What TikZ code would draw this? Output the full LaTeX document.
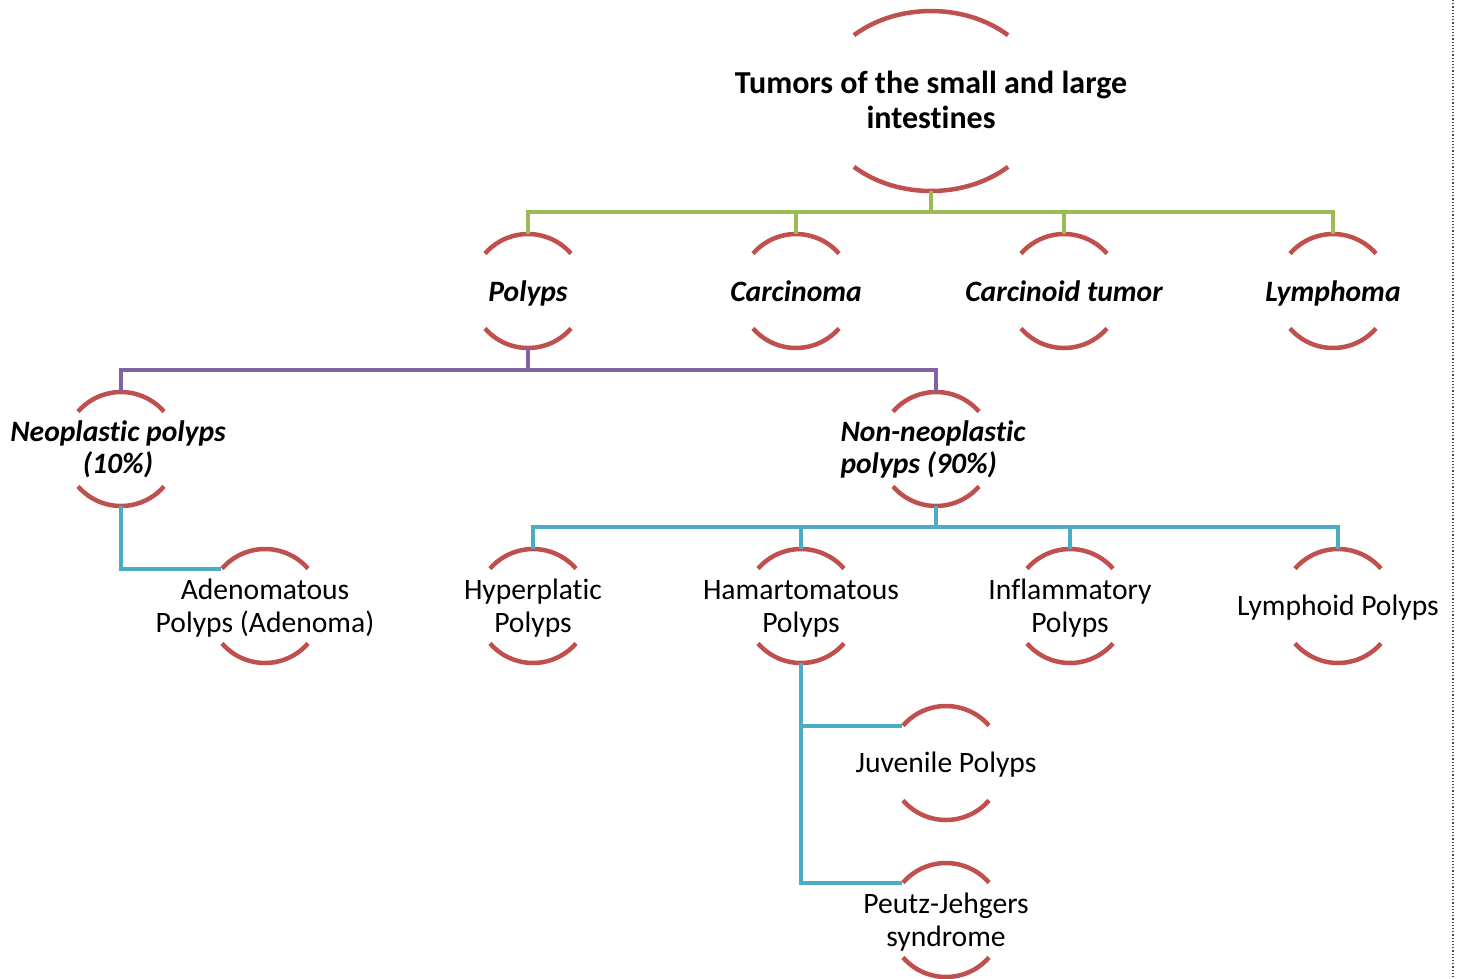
\documentclass[tikz,border=0pt]{standalone}
\usepackage{fontspec}
\setmainfont{Carlito}[Ligatures={NoCommon}]
\usetikzlibrary{calc,shapes.geometric}
\definecolor{arcred}{HTML}{C0504D}
\definecolor{lgreen}{HTML}{9BBB59}
\definecolor{lpurple}{HTML}{8064A2}
\definecolor{lblue}{HTML}{4BACC6}
\tikzset{
  nd/.style={circle, minimum size=114pt, inner sep=0pt, outer sep=0pt},
  txt/.style={font=\fontsize{29.6}{33}\selectfont, align=center, inner sep=0pt, yshift=-2pt},
  bi/.style={font=\fontsize{29.6}{32}\selectfont\bfseries\itshape, align=center, inner sep=0pt, yshift=-2pt},
  arcline/.style={draw=arcred, line width=4.5pt},
  gline/.style={draw=lgreen, line width=4pt},
  pline/.style={draw=lpurple, line width=4pt},
  bline/.style={draw=lblue, line width=4pt},
}
\begin{document}
\begin{tikzpicture}[x=1pt,y=1pt]
\useasboundingbox (0,0) rectangle (1459,-978);
% title
\node[ellipse, minimum width=226pt, minimum height=180pt, inner sep=0pt, outer sep=0pt,
  label={[font=\fontsize{32}{35}\selectfont\bfseries, align=center, inner sep=0pt, yshift=-3pt]center:Tumors of the small and large\strut\\intestines\strut}]
  (title) at (931,-101) {};
\draw[arcline] ($(title.center)+(47:113 and 90)$) arc[start angle=47, end angle=133, x radius=113, y radius=90];
\draw[arcline] ($(title.center)+(227:113 and 90)$) arc[start angle=227, end angle=313, x radius=113, y radius=90];
% level 2
\node[nd, label={[bi, yshift=-2pt]center:Polyps\strut}] (polyps) at (528,-291) {};
\node[nd, label={[bi, yshift=-2pt]center:Carcinoma\strut}] (carc) at (796,-291) {};
\node[nd, label={[bi, yshift=-2pt]center:Carcinoid tumor\strut}] (carcoid) at (1064,-291) {};
\node[nd, label={[bi, yshift=-2pt]center:Lymphoma\strut}] (lymph) at (1333,-291) {};
% level 3
\node[nd, label={[bi, xshift=-3pt]center:Neoplastic polyps\strut\\(10\%)\strut}] (neo) at (121,-449) {};
\node[nd, label={[bi, align=left, xshift=-3pt]center:Non-neoplastic\strut\\polyps (90\%)\strut}] (nonneo) at (936,-449) {};
% level 4
\node[nd, label={[txt, yshift=-1pt]center:Adenomatous\strut\\Polyps (Adenoma)\strut}] (aden) at (265,-606) {};
\node[nd, label={[txt, yshift=-1pt]center:Hyperplatic\strut\\Polyps\strut}] (hyper) at (533,-606) {};
\node[nd, label={[txt, yshift=-1pt]center:Hamartomatous\strut\\Polyps\strut}] (ham) at (801,-606) {};
\node[nd, label={[txt, yshift=-1pt]center:Inflammatory\strut\\Polyps\strut}] (infl) at (1070,-606) {};
\node[nd, label={[txt, yshift=-1pt]center:Lymphoid Polyps\strut}] (lymphoid) at (1338,-606) {};
% level 5
\node[nd, label={[txt, yshift=-1pt]center:Juvenile Polyps\strut}] (juv) at (946,-763) {};
\node[nd, label={[txt, yshift=-1pt]center:Peutz-Jehgers\strut\\syndrome\strut}] (peutz) at (946,-920) {};
% arcs
\foreach \n in {polyps,carc,carcoid,lymph,neo,nonneo,aden,hyper,ham,infl,lymphoid,juv,peutz}{
  \draw[arcline] ([shift={(41:57)}]\n.center) arc[start angle=41, end angle=139, radius=57];
  \draw[arcline] ([shift={(221:57)}]\n.center) arc[start angle=221, end angle=319, radius=57];
}
% green connectors
\coordinate (gbus) at (931,-212);
\draw[gline] (title.south) -- (gbus);
\draw[gline] (polyps.north) |- (gbus) -| (lymph.north);
\draw[gline] (carc.north) -- (carc.north |- gbus);
\draw[gline] (carcoid.north) -- (carcoid.north |- gbus);
% purple connectors
\coordinate (pbus) at (528,-370);
\draw[pline] (polyps.south) -- (pbus);
\draw[pline] (neo.north) |- (pbus) -| (nonneo.north);
% blue connectors
\draw[bline] (neo.south) |- (aden.140);
\coordinate (bbus) at (936,-527);
\draw[bline] (nonneo.south) -- (bbus);
\draw[bline] (hyper.north) |- (bbus) -| (lymphoid.north);
\draw[bline] (ham.north) -- (ham.north |- bbus);
\draw[bline] (infl.north) -- (infl.north |- bbus);
\draw[bline] (ham.south) |- (juv.140);
\draw[bline] (ham.south) |- (peutz.140);
% right border
\draw[black!70, line width=1.2pt, dotted] (1453,0) -- (1453,-978);
\end{tikzpicture}
\end{document}
